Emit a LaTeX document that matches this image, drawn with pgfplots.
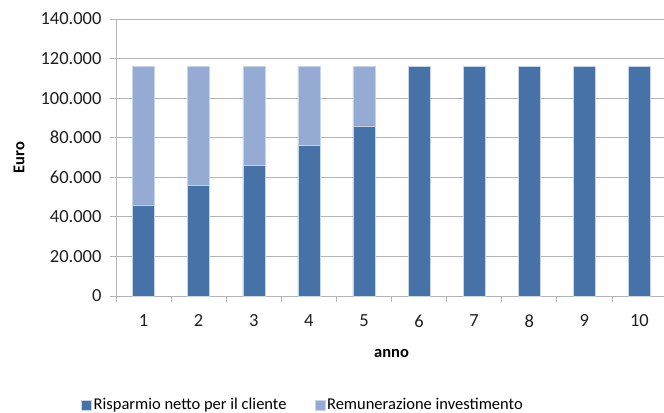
\documentclass[border=0pt]{standalone}
\usepackage{fontspec}
\setmainfont{Carlito}
\usepackage{pgfplots}
\pgfplotsset{compat=1.18}
\definecolor{darkb}{HTML}{4672A8}
\definecolor{lightb}{HTML}{95ABD4}
\definecolor{gridc}{HTML}{B4B4B4}
\begin{document}
\begin{tikzpicture}
\begin{axis}[
  name=ax,
  scale only axis,
  width=551bp, height=277bp,
  ybar stacked, bar width=22bp,
  xmin=0.5, xmax=10.5, ymin=0, ymax=140000,
  ytick={0,20000,...,140000},
  scaled y ticks=false,
  yticklabel style={xshift=-5bp, /pgf/number format/fixed, /pgf/number format/1000 sep={.}, /pgf/number format/assume math mode=true},
  xticklabel style={yshift=-9bp, /pgf/number format/assume math mode=true},
  xtick={1,...,10},
  major x tick style={draw=none},
  minor xtick={0.5,1.5,...,10.5},
  minor x tick style={gridc, line width=0.8pt},
  minor tick length=6bp,
  major tick length=6bp,
  tick align=outside,
  y tick style={gridc, line width=0.8pt},
  ymajorgrids, grid style={gridc, line width=0.8pt},
  axis lines*=left,
  axis line style={gridc, line width=0.8pt},
  tick label style={font=\fontsize{18.5bp}{21bp}\selectfont, text=black!88},
  ylabel={\textbf{Euro}},
  xlabel={\textbf{anno}},
  label style={font=\fontsize{16.5bp}{19bp}\selectfont},
  ylabel style={at={(axis description cs:-0.176,0.5)}, anchor=center},
  xlabel style={at={(axis description cs:0.5,0)}, anchor=center, yshift=-57bp},
  legend style={at={(axis description cs:-0.069,-0.393)}, anchor=west, draw=none,
    legend columns=2, font=\fontsize{16.5bp}{20bp}\selectfont,
    /tikz/every even column/.append style={column sep=26bp}},
  legend image code/.code={\fill[#1] (0bp,-5bp) rectangle (10bp,5bp);},
  every axis plot/.append style={draw=white!70!darkb, line width=0.5pt},
]
\addplot[fill=darkb] coordinates {(1,46000) (2,56000) (3,66000) (4,76000) (5,86000) (6,116000) (7,116000) (8,116000) (9,116000) (10,116000)};
\addplot[fill=lightb] coordinates {(1,70000) (2,60000) (3,50000) (4,40000) (5,30000) (6,0) (7,0) (8,0) (9,0) (10,0)};
\legend{Risparmio netto per il cliente, Remunerazione investimento}
\end{axis}
\pgfresetboundingbox
\path ([xshift=-116bp,yshift=-117bp]ax.south west) rectangle ([xshift=548bp,yshift=296bp]ax.south west);
\end{tikzpicture}
\end{document}
